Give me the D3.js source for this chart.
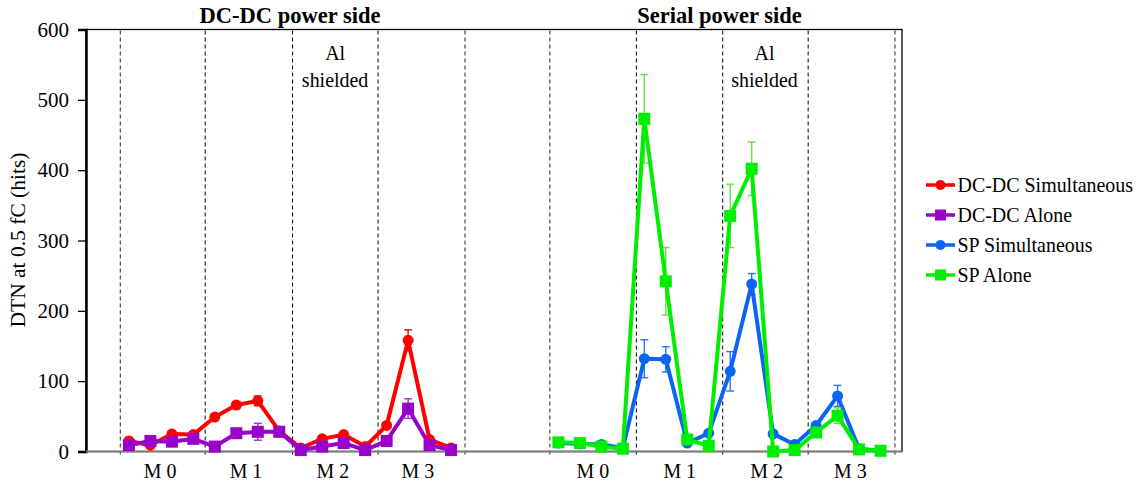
<!DOCTYPE html>
<html><head><meta charset="utf-8">
<script src="https://cdn.jsdelivr.net/npm/d3@7"></script>
<style>body{margin:0;background:#fff}svg{display:block}</style>
</head><body><svg id="c" width="1146" height="485"></svg>
<script>
// ---- data ----
const leftIdx  = d3.range(0, 16);   // DC-DC side positions
const rightIdx = d3.range(20, 36);  // Serial power side positions
const dcdcSim     = [15, 9, 25, 24, 49, 66, 72, 29, 5, 18, 24, 7, 37, 158, 17, 5];
const dcdcSimErr  = [3, 3, 3, 3, 3, 5, 7, 3, 2, 3, 3, 2, 3, 15, 3, 2];
const dcdcAlone   = [9, 15, 14, 18, 7, 26, 28, 28, 2, 7, 12, 2, 15, 61, 9, 2];
const dcdcAloneErr= [3, 3, 3, 3, 2, 4, 12, 3, 2, 2, 3, 2, 3, 14, 3, 2];
const spSim       = [12, 11, 10, 5, 132, 131, 12, 26, 114, 238, 25, 10, 37, 79, 4, 1];
const spSimErr    = [2, 2, 2, 2, 27, 18, 3, 3, 28, 15, 3, 2, 3, 15, 2, 1];
const spAlone     = [13, 12, 7, 4, 473, 242, 17, 8, 335, 402, 0, 2, 27, 51, 3, 1];
const spAloneErr  = [2, 2, 2, 2, 63, 48, 3, 2, 45, 38, 2, 2, 3, 11, 2, 1];
const seriesNames = ["DC-DC Simultaneous", "DC-DC Alone", "SP Simultaneous", "SP Alone"];
const yTicks = [0, 100, 200, 300, 400, 500, 600];
const dividers = [-0.4, 3.55, 7.62, 11.6, 15.65, 19.6, 23.63, 27.65, 31.63, 35.67];
const moduleLabels = ["M 0", "M 1", "M 2", "M 3", "M 0", "M 1", "M 2", "M 3"];
const moduleLabelPos = [1.45, 5.45, 9.5, 13.45, 21.6, 25.65, 29.7, 33.6];
const panelTitles = ["DC-DC power side", "Serial power side"];
const panelTitlePos = [7.5, 27.5];
const shieldLabelPos = [9.6, 29.6];

// ---- layout ----
const FONT = "'Liberation Serif', Tinos, 'Times New Roman', 'DejaVu Serif', serif";
const svg = d3.select("#c");
const x = d3.scaleLinear().domain([-2, 36]).range([86, 902]);
const y = d3.scaleLinear().domain([0, 600]).range([451.5, 29.5]);
const SX = 0.95;
function txt(g, px, py, s, opt) {
  opt = opt || {};
  return g.append("text")
    .attr("transform", `translate(${px},${py}) scale(${opt.sx || SX},1)`)
    .attr("text-anchor", opt.anchor || "middle")
    .attr("font-family", FONT)
    .attr("font-size", opt.size || 21)
    .attr("font-weight", opt.weight || "normal")
    .attr("fill", "#000")
    .text(s);
}

// frame
svg.append("rect").attr("x", 86).attr("y", y(600)).attr("width", 902 - 86).attr("height", y(0) - y(600))
  .attr("fill", "none").attr("stroke", "#000").attr("stroke-width", 1.3);

// dividers
dividers.forEach((d, i) => {
  const outer = (i === 0 || i === 4 || i === 5 || i === 9);
  svg.append("line").attr("x1", x(d)).attr("x2", x(d)).attr("y1", y(600) + 1).attr("y2", 456)
    .attr("stroke", outer ? "#555" : "#000").attr("stroke-width", outer ? 1.3 : 1)
    .attr("stroke-dasharray", "4,3");
});

// y axis
const yAxis = svg.append("g").attr("transform", "translate(86,0)")
  .call(d3.axisLeft(y).tickValues(yTicks).tickSize(8).tickFormat(""));
yAxis.select(".domain").attr("stroke", "#000").attr("stroke-width", 2.5);
yAxis.selectAll(".tick line").attr("stroke", "#000").attr("stroke-width", 1.3);
yTicks.forEach(t => txt(svg, 69, y(t) + 7, String(t), {anchor: "end", sx: 1, size: 21}));

// x axis line
svg.append("line").attr("x1", 86).attr("x2", 902).attr("y1", y(0)).attr("y2", y(0))
  .attr("stroke", "#808080").attr("stroke-width", 2.2);

// y label
svg.append("text").attr("transform", "translate(25,240) rotate(-90)")
  .attr("font-family", FONT).attr("fill", "#000")
  .attr("text-anchor", "middle").attr("font-size", 21.5).text("DTN at 0.5 fC (hits)");

// titles
panelTitles.forEach((t, i) => txt(svg, x(panelTitlePos[i]), 23, t, {weight: "bold", size: 22.5, sx: 1}));
// module labels
moduleLabels.forEach((t, i) => txt(svg, x(moduleLabelPos[i]), 478, t));
// Al shielded
shieldLabelPos.forEach(p => {
  txt(svg, x(p), 60, "Al");
  txt(svg, x(p), 87, "shielded");
});

// series
const series = [
  {name: seriesNames[0], xs: leftIdx,  v: dcdcSim,   e: dcdcSimErr,   color: "#ff0000", ecolor: "#ff0000", shape: "circle"},
  {name: seriesNames[1], xs: leftIdx,  v: dcdcAlone, e: dcdcAloneErr, color: "#9900cc", ecolor: "#9933cc", shape: "square"},
  {name: seriesNames[2], xs: rightIdx, v: spSim,     e: spSimErr,     color: "#0a64f5", ecolor: "#2a74f0", shape: "circle"},
  {name: seriesNames[3], xs: rightIdx, v: spAlone,   e: spAloneErr,   color: "#00ee00", ecolor: "#66e040", shape: "square"}
];
const line = d3.line().x(d => x(d[0])).y(d => y(d[1]));
function marker(g, shape, cx, cy, color, s) {
  if (shape === "circle") g.append("circle").attr("cx", cx).attr("cy", cy).attr("r", s / 2).attr("fill", color);
  else g.append("rect").attr("x", cx - s / 2).attr("y", cy - s / 2).attr("width", s).attr("height", s).attr("fill", color);
}
series.forEach(s => {
  const g = svg.append("g");
  const pts = s.xs.map((xi, i) => [xi, s.v[i], s.e[i]]);
  pts.forEach(p => {
    const cx = x(p[0]), top = y(p[1] + p[2]), bot = y(Math.max(0, p[1] - p[2]));
    g.append("line").attr("x1", cx).attr("x2", cx).attr("y1", top).attr("y2", bot).attr("stroke", s.ecolor).attr("stroke-width", 1.4);
    [top, bot].forEach(yy => g.append("line").attr("x1", cx - 4).attr("x2", cx + 4).attr("y1", yy).attr("y2", yy).attr("stroke", s.ecolor).attr("stroke-width", 1.4));
  });
  g.append("path").attr("d", line(pts)).attr("fill", "none").attr("stroke", s.color).attr("stroke-width", 4).attr("stroke-linejoin", "round");
  pts.forEach(p => marker(g, s.shape, x(p[0]), y(p[1]), s.color, s.shape === "circle" ? 11 : 12));
});

// legend
series.forEach((s, i) => {
  const ly = 185 + i * 30;
  svg.append("line").attr("x1", 926).attr("x2", 955).attr("y1", ly).attr("y2", ly).attr("stroke", s.color).attr("stroke-width", 3.5);
  marker(svg, s.shape, 940.5, ly, s.color, s.shape === "circle" ? 10 : 11);
  txt(svg, 957.5, ly + 7, s.name, {anchor: "start"});
});
</script></body></html>
